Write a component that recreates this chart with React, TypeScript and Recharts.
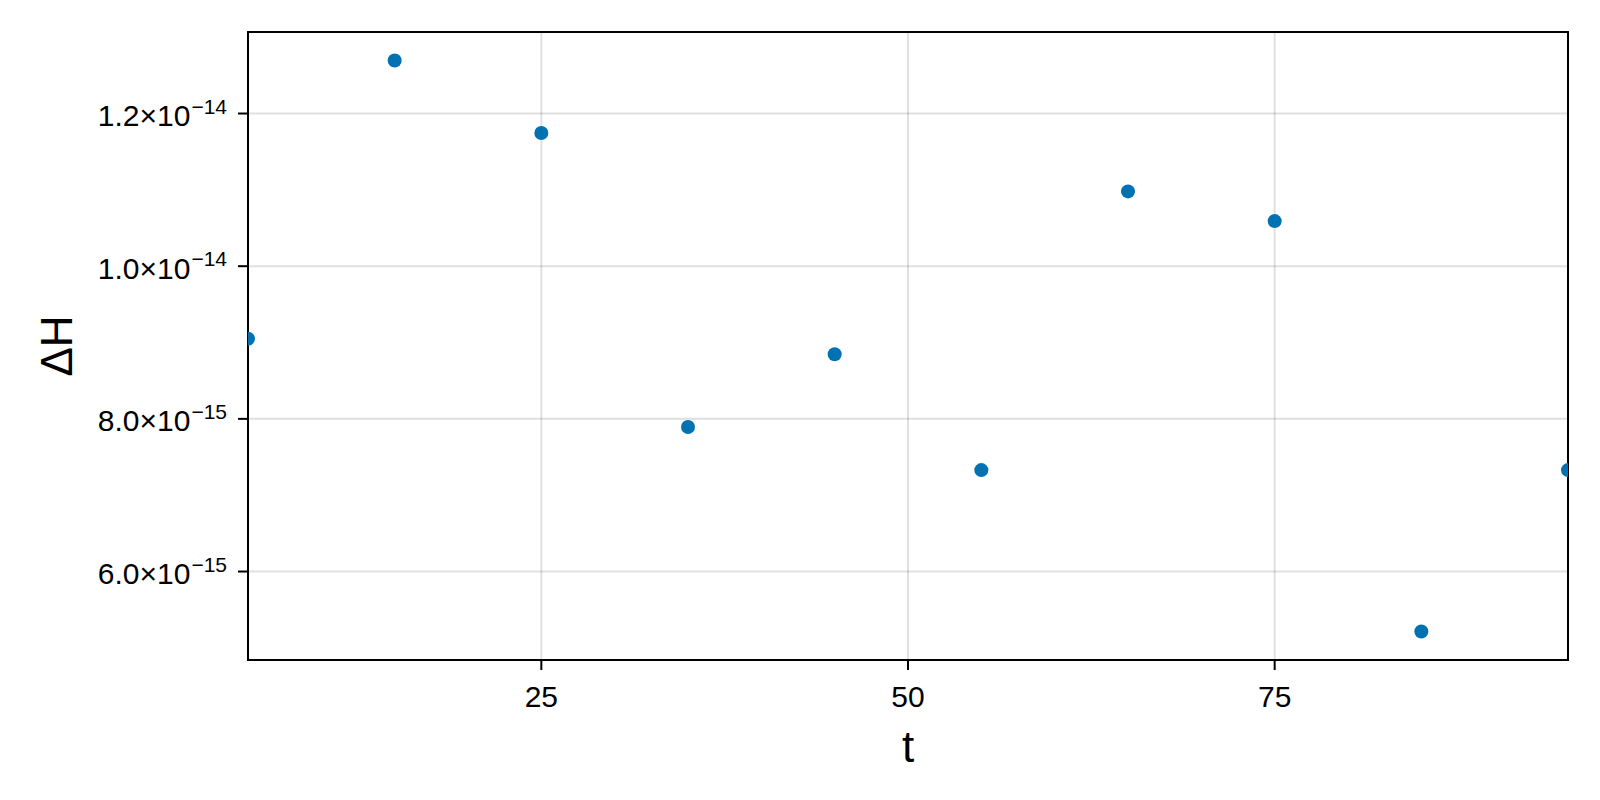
import { ScatterChart, Scatter, XAxis, YAxis, CartesianGrid, ReferenceArea, Label } from "recharts";

const tValues = [5, 15, 25, 35, 45, 55, 65, 75, 85, 95];
const dHValues = [
  9.05e-15, 1.2694e-14, 1.1745e-14, 7.893e-15, 8.846e-15,
  7.329e-15, 1.098e-14, 1.0591e-14, 5.215e-15, 7.329e-15,
];
const xTicks = [25, 50, 75];
const yTicks = [6e-15, 8e-15, 1e-14, 1.2e-14];
const xDomain = [5, 95];
const yDomain = [4.841e-15, 1.3068e-14];

const data = tValues.map((t, i) => ({ t, dH: dHValues[i] }));

const FONT = "'Liberation Sans', Arial, Helvetica, sans-serif";
const BLUE = "#0072B2";

const YTick = ({ x, y, payload }: { x?: number; y?: number; payload?: { value: number } }) => {
  const v = payload?.value ?? 0;
  const exp = Math.floor(Math.log10(v) + 1e-9);
  const mant = (v / Math.pow(10, exp)).toFixed(1);
  return (
    <text x={x} y={y} textAnchor="end" fontFamily={FONT} fontSize={30} fill="#000">
      <tspan dy={12.6}>{mant}×10</tspan>
      <tspan fontSize={21} dx={1} dy={-12.3}>{"\u2212" + Math.abs(exp)}</tspan>
    </text>
  );
};

const XTick = ({ x, y, payload }: { x?: number; y?: number; payload?: { value: number } }) => (
  <text x={x} y={(y ?? 0) + 35} textAnchor="middle" fontFamily={FONT} fontSize={30} fill="#000">
    {payload?.value}
  </text>
);

const Dot = (props: { cx?: number; cy?: number }) => (
  <circle cx={props.cx} cy={props.cy} r={7} fill={BLUE} />
);

export default function App() {
  return (
    <div style={{ position: "absolute", left: 0, top: 0, width: 1600, height: 800, background: "#fff" }}>
      <ScatterChart width={1600} height={800} margin={{ top: 32, right: 32, bottom: 40, left: 48 }}>
        <CartesianGrid stroke="rgba(0,0,0,0.12)" strokeWidth={2} />
        <XAxis
          type="number"
          dataKey="t"
          domain={xDomain}
          ticks={xTicks}
          allowDataOverflow
          height={100}
          axisLine={false}
          tickSize={10}
          tickLine={{ stroke: "#000", strokeWidth: 2 }}
          tick={<XTick />}
        >
          <Label
            content={({ viewBox }: any) => (
              <text
                x={viewBox.x + viewBox.width / 2}
                y={viewBox.y + 102}
                textAnchor="middle"
                fontFamily={FONT}
                fontSize={44}
                fill="#000"
              >
                t
              </text>
            )}
          />
        </XAxis>
        <YAxis
          type="number"
          dataKey="dH"
          domain={yDomain}
          ticks={yTicks}
          allowDataOverflow
          width={200}
          axisLine={false}
          tickSize={10}
          tickMargin={11}
          tickLine={{ stroke: "#000", strokeWidth: 2 }}
          tick={<YTick />}
        >
          <Label
            content={({ viewBox }: any) => {
              const cx = viewBox.x + 24;
              const cy = viewBox.y + viewBox.height / 2;
              return (
                <text
                  x={cx}
                  y={cy}
                  transform={`rotate(-90 ${cx} ${cy})`}
                  textAnchor="middle"
                  fontFamily={FONT}
                  fontSize={44}
                  fill="#000"
                >
                  ΔH
                </text>
              );
            }}
          />
        </YAxis>
        <Scatter data={data} fill={BLUE} shape={<Dot />} isAnimationActive={false} />
        <ReferenceArea
          x1={xDomain[0]}
          x2={xDomain[1]}
          y1={yDomain[0]}
          y2={yDomain[1]}
          fill="none"
          stroke="#000"
          strokeWidth={2}
          ifOverflow="visible"
        />
      </ScatterChart>
    </div>
  );
}
